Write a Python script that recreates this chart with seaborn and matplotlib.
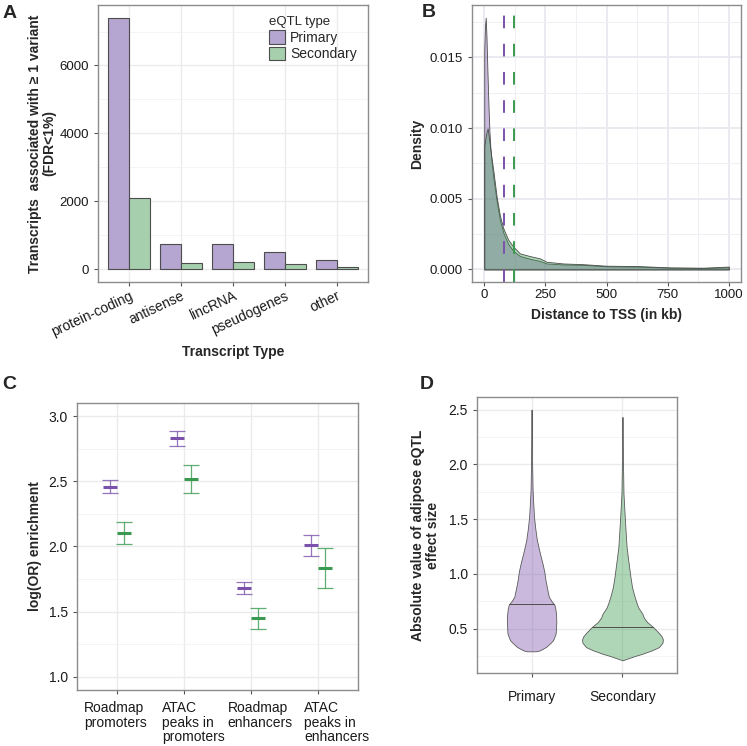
import numpy as np
import pandas as pd
import matplotlib
matplotlib.use('Agg')
import matplotlib.pyplot as plt
import matplotlib.colors as mcolors
from matplotlib.ticker import MultipleLocator
import seaborn as sns

sns.set_style('whitegrid')
plt.rcParams['font.family'] = ['Liberation Sans', 'DejaVu Sans']

# --- colours ---
purple = '#7B52AB'
green = '#3A9A4F'
bar_purple = '#B4A5D1'
bar_green = '#A6D0AD'

# --- panel A: transcripts per type ---
transcript_types = ['protein-coding', 'antisense', 'lincRNA', 'pseudogenes', 'other']
primary_counts = [7410, 738, 748, 511, 266]
secondary_counts = [2115, 177, 226, 157, 79]

# --- panel B: distance to TSS densities (kb, density) ---
prim_dist = [0, 3, 6, 9, 13, 17, 21, 25, 30, 37, 45, 51, 64, 78, 98, 119, 146,
             187, 228, 255, 323, 405, 501, 624, 760, 896, 1000]
prim_dens = [0.0155, 0.0172, 0.0178, 0.0165, 0.0140, 0.0117, 0.0098, 0.0086,
             0.0076, 0.0065, 0.0055, 0.0048, 0.0035, 0.0026, 0.0018, 0.0013,
             0.00095, 0.00075, 0.0006, 0.00042, 0.00035, 0.00032, 0.00022,
             0.0002, 0.00012, 0.0001, 0.00015]
sec_dist = [0, 5, 10, 14, 20, 28, 37, 51, 64, 78, 98, 119, 146, 187, 228, 255,
            323, 405, 501, 624, 760, 896, 1000]
sec_dens = [0.0087, 0.0093, 0.0098, 0.00997, 0.0092, 0.0081, 0.0070, 0.0051,
            0.0038, 0.0029, 0.0021, 0.0016, 0.00113, 0.00094, 0.00078, 0.00054,
            0.00042, 0.00037, 0.00026, 0.00024, 0.00014, 0.00012, 0.0002]
prim_center = 79
sec_center = 121

# --- panel C: enrichment ---
annot_cats = ['Roadmap\npromoters', 'ATAC\npeaks in\npromoters',
              'Roadmap\nenhancers', 'ATAC\npeaks in\nenhancers']
prim_or = [2.458, 2.829, 1.683, 2.010]
prim_or_lo = [2.409, 2.767, 1.639, 1.928]
prim_or_hi = [2.509, 2.885, 1.729, 2.089]
sec_or = [2.105, 2.519, 1.453, 1.834]
sec_or_lo = [2.020, 2.409, 1.371, 1.678]
sec_or_hi = [2.187, 2.624, 1.529, 1.987]

# --- panel D: violin outlines (value, half width in category units) ---
violin_cats = ['Primary', 'Secondary']
prim_v = [0.292, 0.30, 0.332, 0.37, 0.393, 0.42, 0.454, 0.50, 0.56, 0.62, 0.68,
          0.72, 0.75, 0.79, 0.85, 0.943, 1.02, 1.095, 1.19, 1.31, 1.42, 1.52,
          1.65, 1.767, 2.0, 2.25, 2.5]
prim_hw = [0.05, 0.09, 0.16, 0.21, 0.236, 0.25, 0.265, 0.268, 0.272, 0.27,
           0.262, 0.25, 0.22, 0.19, 0.175, 0.153, 0.14, 0.12, 0.091, 0.058,
           0.04, 0.027, 0.018, 0.011, 0.006, 0.004, 0.002]
sec_v = [0.21, 0.23, 0.25, 0.27, 0.30, 0.33, 0.37, 0.40, 0.43, 0.46, 0.49,
         0.515, 0.56, 0.60, 0.637, 0.69, 0.73, 0.80, 0.88, 0.97, 1.065, 1.16,
         1.248, 1.38, 1.52, 1.737, 2.0, 2.2, 2.433]
sec_hw = [0.0, 0.07, 0.14, 0.22, 0.32, 0.40, 0.44, 0.445, 0.43, 0.40, 0.365,
          0.336, 0.27, 0.235, 0.218, 0.175, 0.157, 0.13, 0.105, 0.088, 0.073,
          0.058, 0.045, 0.035, 0.025, 0.011, 0.006, 0.004, 0.002]
medians = [0.72, 0.518]


def ggstyle(ax, grid='#EBEBEB', fs=9.5):
    ax.set_facecolor('white')
    for s in ax.spines.values():
        s.set_visible(True)
        s.set_color('#8C8C8C')
        s.set_linewidth(1.0)
    ax.grid(True, which='major', color=grid, lw=1.0)
    ax.grid(True, which='minor', color='#F2F2F2', lw=0.6)
    ax.set_axisbelow(True)
    ax.tick_params(which='major', bottom=True, left=True, length=3, width=0.8,
                   color='#555555', labelsize=fs, labelcolor='#1A1A1A', pad=2)
    ax.tick_params(axis='y', pad=3.5)
    ax.tick_params(which='minor', length=0)


fig = plt.figure(figsize=(7.47, 7.46), dpi=100)

# ---------- A ----------
axA = fig.add_axes([0.1312, 0.622, 0.3614, 0.3713])
df_a = pd.DataFrame({
    'type': transcript_types * 2,
    'count': primary_counts + secondary_counts,
    'eqtl': ['Primary'] * 5 + ['Secondary'] * 5,
})
sns.barplot(data=df_a, x='type', y='count', hue='eqtl', palette=[bar_purple, bar_green],
            width=0.8, edgecolor='#4D4D4D', linewidth=0.8, saturation=1, ax=axA)
ggstyle(axA)
axA.set_xlim(-0.6, 4.6)
axA.set_ylim(-370, 7780)
axA.set_yticks([0, 2000, 4000, 6000])
axA.yaxis.set_minor_locator(MultipleLocator(1000))
axA.grid(False, axis='x', which='minor')
for lab in axA.get_xticklabels():
    lab.set_rotation(25)
    lab.set_ha('right')
    lab.set_va('top')
    lab.set_rotation_mode('anchor')
    lab.set_fontsize(10)
axA.set_xlabel('Transcript Type', fontsize=10, fontweight='bold', labelpad=4)
axA.set_ylabel('Transcripts  associated with \u2265 1 variant\n(FDR<1%)',
               fontsize=10, fontweight='bold', labelpad=2, linespacing=1.1)
h, l = axA.get_legend_handles_labels()
axA.legend(h, l, title='eQTL type', loc='upper right', bbox_to_anchor=(1.0, 1.0),
           frameon=False, fontsize=10, title_fontsize=9.5, alignment='left',
           handlelength=1.1, handleheight=1.1, labelspacing=0.15,
           handletextpad=0.4, borderaxespad=0.4)

# ---------- B ----------
axB = fig.add_axes([0.6319, 0.622, 0.3601, 0.3713])
ggstyle(axB, grid='#E9E8EF')
axB.grid(True, which='major', color='#E9E8EF', lw=1.3)
axB.grid(True, which='minor', color='#F0EFF4', lw=0.8)
axB.fill_between(prim_dist, prim_dens, facecolor=mcolors.to_rgba(purple, 0.4),
                 edgecolor='#4D4D4D', linewidth=0.6)
axB.fill_between(sec_dist, sec_dens, facecolor=mcolors.to_rgba(green, 0.4),
                 edgecolor='#4D4D4D', linewidth=0.6)
axB.axvline(prim_center, color=purple, lw=1.4, dashes=(6.5, 8))
axB.axvline(sec_center, color=green, lw=1.4, dashes=(6.5, 8))
axB.set_xlim(-50, 1050)
axB.set_ylim(-0.00089, 0.0187)
axB.set_xticks([0, 250, 500, 750, 1000])
axB.set_yticks([0.0, 0.005, 0.010, 0.015])
axB.set_yticklabels(['0.000', '0.005', '0.010', '0.015'])
axB.xaxis.set_minor_locator(MultipleLocator(125))
axB.yaxis.set_minor_locator(MultipleLocator(0.0025))
axB.set_xlabel('Distance to TSS (in kb)', fontsize=10, fontweight='bold', labelpad=5)
axB.set_ylabel('Density', fontsize=10, fontweight='bold', labelpad=4)

# ---------- C ----------
axC = fig.add_axes([0.1031, 0.0751, 0.3762, 0.3847])
ggstyle(axC, fs=10)
pos = np.arange(len(annot_cats))
for mid, lo, hi, col, off in [(prim_or, prim_or_lo, prim_or_hi, purple, -0.1),
                              (sec_or, sec_or_lo, sec_or_hi, green, 0.1)]:
    mid = np.array(mid)
    err = [mid - np.array(lo), np.array(hi) - mid]
    axC.errorbar(pos + off, mid, yerr=err, fmt='none', ecolor=col, elinewidth=0.9,
                 capsize=5.5, capthick=0.9, alpha=0.8)
    axC.plot(pos + off, mid, ls='none', marker='_', ms=9.5, mew=2.2, color=col)
axC.set_xlim(-0.6, 3.6)
axC.set_ylim(0.9, 3.1)
# tick marks on the categories, labels sit on slightly shifted minor ticks
axC.set_xticks(pos)
axC.set_xticklabels([''] * len(pos))
label_shift = np.array([-0.03, 0.135, 0.135, 0.285])
axC.set_xticks(pos + label_shift, minor=True)
axC.set_xticklabels(annot_cats, minor=True, fontsize=10, linespacing=1.05,
                    multialignment='left', color='#1A1A1A')
axC.tick_params(axis='x', which='minor', length=0, pad=8)
axC.grid(False, axis='x', which='minor')
axC.set_yticks([1.0, 1.5, 2.0, 2.5, 3.0])
axC.yaxis.set_minor_locator(MultipleLocator(0.25))
axC.set_ylabel('log(OR) enrichment', fontsize=10, fontweight='bold', labelpad=5)

# ---------- D ----------
axD = fig.add_axes([0.6386, 0.0979, 0.2677, 0.3699])
ggstyle(axD, fs=10)
for i, (v, hw, col) in enumerate([(prim_v, prim_hw, purple), (sec_v, sec_hw, green)]):
    v = np.array(v)
    hw = np.array(hw)
    axD.fill_betweenx(v, i - hw, i + hw, facecolor=mcolors.to_rgba(col, 0.4),
                      edgecolor='#5A5A5A', linewidth=0.6)
    mw = np.interp(medians[i], v, hw)
    axD.hlines(medians[i], i - mw, i + mw, color='#4D4D4D', lw=0.7)
axD.set_xlim(-0.6, 1.6)
axD.set_ylim(0.094, 2.616)
axD.set_xticks([0, 1])
axD.set_xticklabels(violin_cats)
axD.set_yticks([0.5, 1.0, 1.5, 2.0, 2.5])
axD.yaxis.set_minor_locator(MultipleLocator(0.25))
axD.tick_params(axis='x', pad=9)
axD.set_ylabel('Absolute value of adipose eQTL\neffect size', fontsize=10,
               fontweight='bold', labelpad=6, linespacing=1.1)

# panel letters
for x, y, s in [(3, 5, 'A'), (422, 4, 'B'), (2, 376, 'C'), (420, 376, 'D')]:
    fig.text(x / 747, 1 - y / 746, s, fontsize=14, fontweight='bold', va='top', ha='left')

fig.savefig('out.png', dpi=100)
